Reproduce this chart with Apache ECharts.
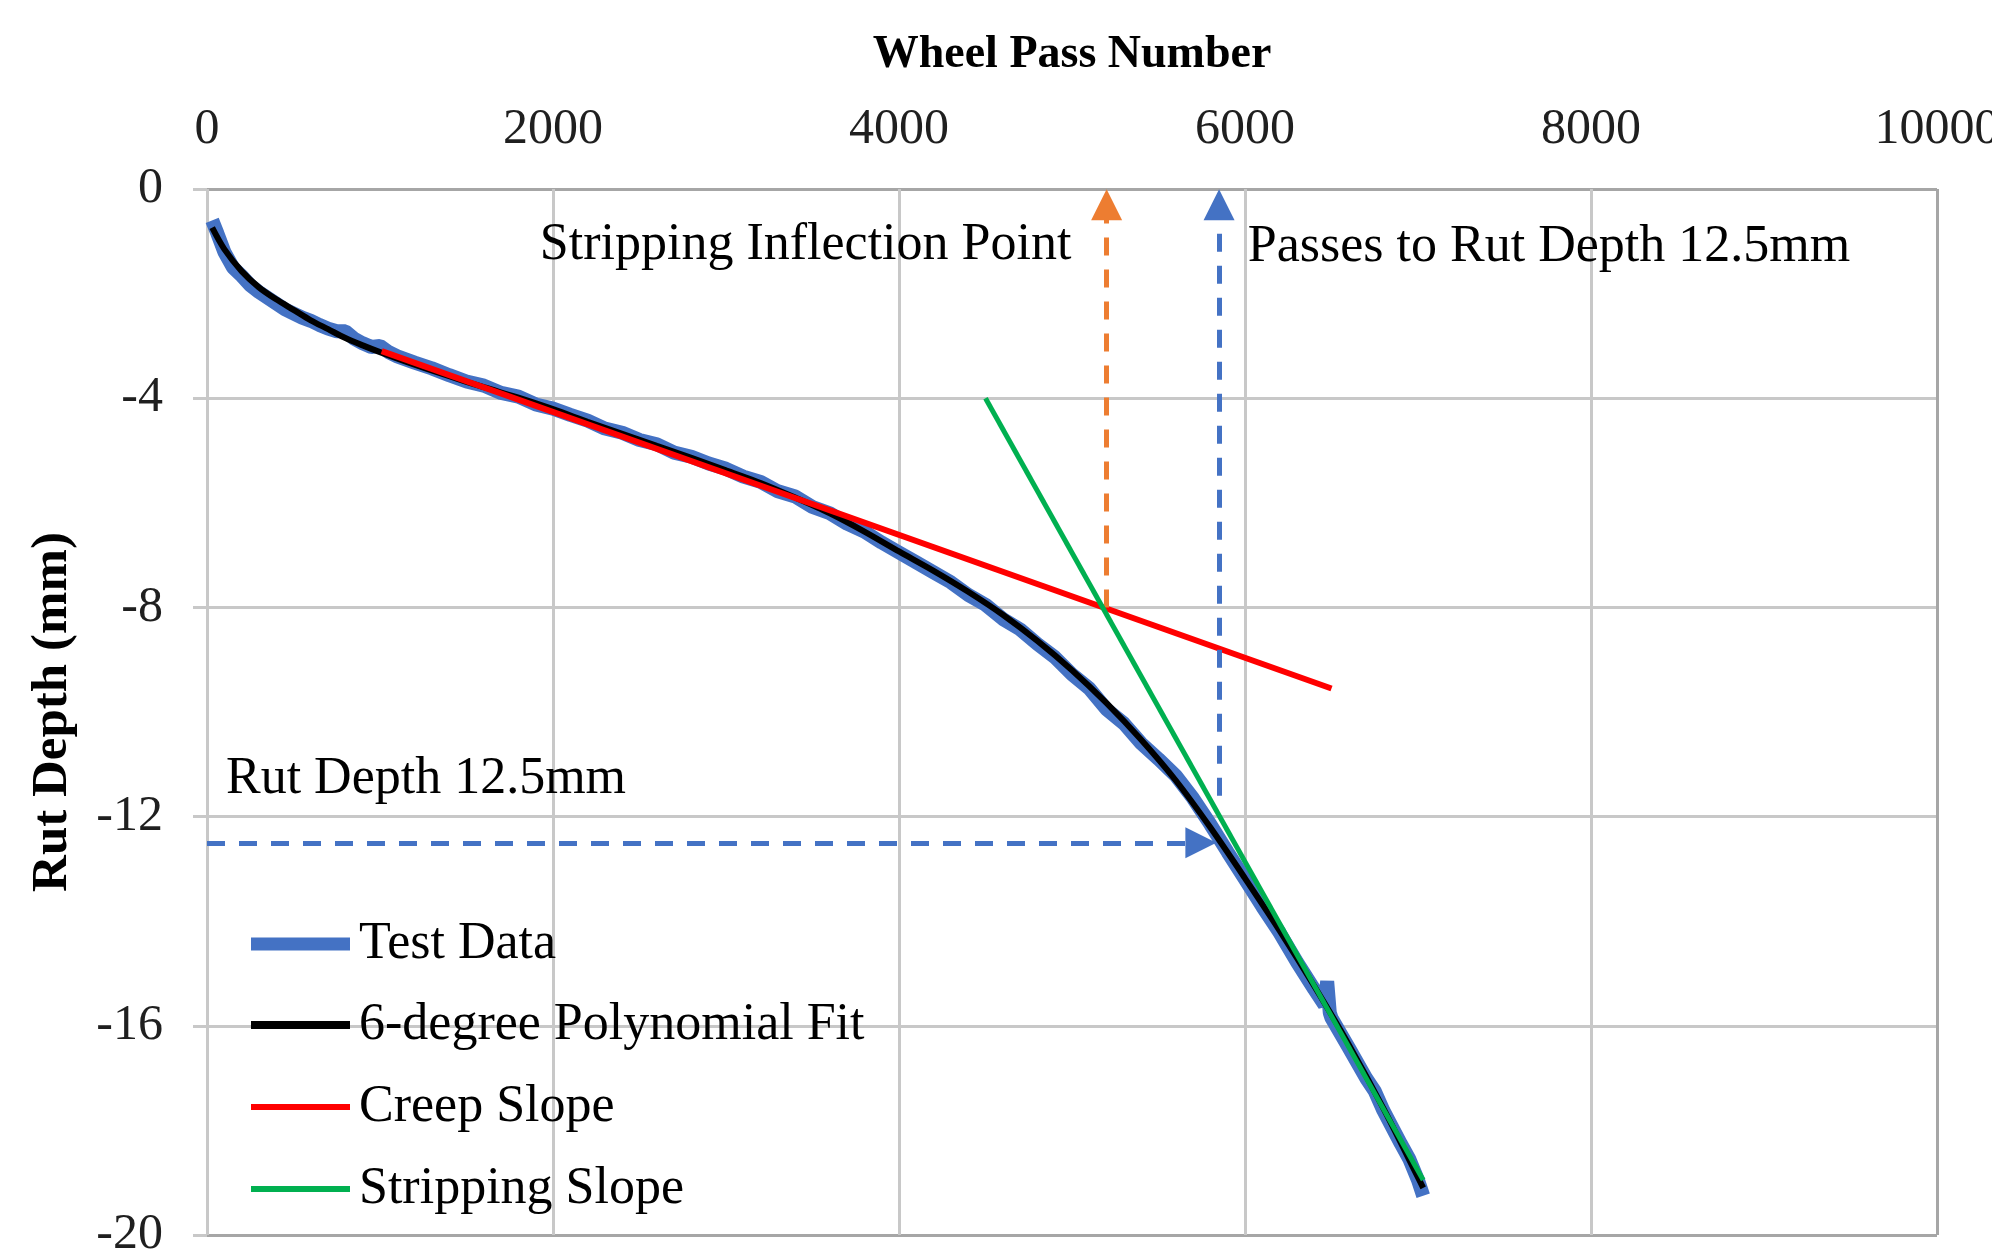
<!DOCTYPE html>
<html>
<head>
<meta charset="utf-8">
<script src="https://cdn.jsdelivr.net/npm/echarts@6/dist/echarts.min.js"></script>
<style>html,body{margin:0;padding:0;background:#fff;}#c{width:1992px;height:1260px;}</style>
</head>
<body>
<div id="c"></div>
<script>
// ---- data ----
const xTicks = [0, 2000, 4000, 6000, 8000, 10000];
const yTicks = [0, -4, -8, -12, -16, -20];

const testData = [[30,-0.6],[60,-0.85],[100,-1.2],[150,-1.5],[200,-1.66],[250,-1.84],[300,-1.97],[350,-2.08],[400,-2.19],[450,-2.3],[500,-2.38],[550,-2.46],[600,-2.52],[650,-2.6],[700,-2.67],[750,-2.72],[800,-2.72],[850,-2.86],[900,-2.95],[950,-3.02],[1000,-3.0],[1050,-3.12],[1100,-3.2],[1200,-3.32],[1300,-3.43],[1400,-3.56],[1500,-3.68],[1600,-3.76],[1700,-3.9],[1800,-3.97],[1900,-4.12],[2000,-4.2],[2100,-4.32],[2200,-4.43],[2300,-4.58],[2400,-4.66],[2500,-4.8],[2600,-4.88],[2700,-5.04],[2800,-5.12],[2900,-5.25],[3000,-5.35],[3100,-5.5],[3200,-5.6],[3300,-5.78],[3400,-5.88],[3500,-6.08],[3600,-6.2],[3700,-6.4],[3800,-6.55],[3900,-6.76],[4000,-6.95],[4100,-7.14],[4200,-7.33],[4300,-7.52],[4400,-7.76],[4500,-7.95],[4600,-8.22],[4700,-8.42],[4800,-8.7],[4900,-8.95],[5000,-9.28],[5100,-9.55],[5200,-9.95],[5300,-10.22],[5400,-10.6],[5500,-10.9],[5600,-11.22],[5700,-11.65],[5800,-12.15],[5900,-12.68],[6000,-13.2],[6100,-13.72],[6200,-14.22],[6300,-14.78],[6400,-15.3],[6460,-15.6],[6475,-15.15],[6490,-15.75],[6500,-15.85],[6600,-16.42],[6700,-17.0],[6750,-17.25],[6800,-17.62],[6900,-18.25],[6950,-18.55],[7000,-18.95],[7030,-19.25]];

const polyFit = [[30,-0.74],[100,-1.15],[200,-1.57],[300,-1.88],[400,-2.11],[500,-2.31],[600,-2.51],[700,-2.68],[800,-2.85],[900,-2.99],[1000,-3.12],[1200,-3.36],[1400,-3.58],[1600,-3.79],[1800,-3.99],[2000,-4.21],[2200,-4.45],[2400,-4.68],[2600,-4.91],[2800,-5.14],[3000,-5.38],[3200,-5.62],[3400,-5.9],[3600,-6.2],[3800,-6.55],[4000,-6.93],[4200,-7.3],[4400,-7.7],[4600,-8.14],[4800,-8.64],[5000,-9.2],[5200,-9.83],[5400,-10.53],[5600,-11.31],[5800,-12.21],[6000,-13.18],[6200,-14.18],[6400,-15.24],[6600,-16.36],[6800,-17.58],[7000,-18.9],[7030,-19.1]];

const creepSlope = [[1010,-3.1],[6500,-9.55]];
const strippingSlope = [[4500,-4.0],[7030,-18.95]];

const inflectionArrow = [[5200,-8.0],[5200,-0.3]];
const passesArrow = [[5850,-11.6],[5850,-0.3]];
const rutDepthArrow = [[0,-12.5],[5745,-12.5]];

const notes = [
  [3460, -1.07, 'Stripping Inflection Point'],
  [7757, -1.12, 'Passes to Rut Depth 12.5mm'],
  [1266, -11.29, 'Rut Depth 12.5mm']
];

const seriesNames = ['Test Data', '6-degree Polynomial Fit', 'Creep Slope', 'Stripping Slope'];
const seriesColors = ['#4472C4', '#000000', '#FF0000', '#00B050'];

// ---- chart ----
const FONT = '"Liberation Serif","Times New Roman",serif';
const LIGHT = '#c8c8c8', DARK = '#a6a6a6';
const chart = echarts.init(document.getElementById('c'), null, {renderer: 'canvas'});

function arrowLine(pts, color) {
  return [{coord: pts[0], lineStyle: {color: color}}, {coord: pts[1]}];
}

const legendTops = [913, 994, 1076, 1158];
const legendThick = [13, 8, 6, 6];

const option = {
  animation: false,
  backgroundColor: '#fff',
  grid: {left: 207, right: 55, top: 189, bottom: 25, show: false, containLabel: false, outerBoundsMode: 'none'},
  xAxis: {
    type: 'value', position: 'top', min: xTicks[0], max: xTicks[xTicks.length - 1], interval: 2000,
    name: 'Wheel Pass Number', nameLocation: 'middle', nameGap: 111,
    nameTextStyle: {fontFamily: FONT, fontWeight: 'bold', fontSize: 46, color: '#000'},
    axisLine: {show: false}, axisTick: {show: false},
    axisLabel: {fontFamily: FONT, fontSize: 50, color: '#1f1f1f', margin: 34, formatter: v => String(v)},
    splitLine: {show: true, lineStyle: {color: [LIGHT, LIGHT, LIGHT, LIGHT, LIGHT, DARK], width: 3}}
  },
  yAxis: {
    type: 'value', min: yTicks[yTicks.length - 1], max: yTicks[0], interval: 4,
    name: 'Rut Depth (mm)', nameLocation: 'middle', nameGap: 129,
    nameTextStyle: {fontFamily: FONT, fontWeight: 'bold', fontSize: 51, color: '#000'},
    axisLine: {show: false},
    axisTick: {show: true, length: 14, lineStyle: {color: LIGHT, width: 3}},
    axisLabel: {fontFamily: FONT, fontSize: 50, color: '#1f1f1f', margin: 44, formatter: v => String(v)},
    splitLine: {show: true, lineStyle: {color: [DARK, LIGHT, LIGHT, LIGHT, LIGHT, DARK], width: 3}}
  },
  legend: seriesNames.map((n, i) => ({
    data: [n], orient: 'vertical', left: 246, top: legendTops[i],
    itemWidth: 99, itemHeight: legendThick[i], icon: 'rect',
    itemStyle: {borderWidth: 0}, selectedMode: false,
    textStyle: {fontFamily: FONT, fontSize: 52, lineHeight: 52, color: '#000', padding: [0, 0, 0, 4]}
  })),
  series: [
    {name: seriesNames[0], type: 'line', data: testData, showSymbol: false, symbol: 'none',
     lineStyle: {color: seriesColors[0], width: 14}, itemStyle: {color: seriesColors[0]}, z: 2},
    {name: seriesNames[1], type: 'line', data: polyFit, showSymbol: false, symbol: 'none', smooth: 0.3,
     lineStyle: {color: seriesColors[1], width: 6}, itemStyle: {color: seriesColors[1]}, z: 3},
    {name: seriesNames[2], type: 'line', data: creepSlope, showSymbol: false, symbol: 'none',
     lineStyle: {color: seriesColors[2], width: 6}, itemStyle: {color: seriesColors[2]}, z: 4},
    {name: seriesNames[3], type: 'line', data: strippingSlope, showSymbol: false, symbol: 'none',
     lineStyle: {color: seriesColors[3], width: 5}, itemStyle: {color: seriesColors[3]}, z: 5},
    {name: 'arrows', type: 'line', data: [], z: 6,
     markLine: {
       silent: true, symbol: ['none', 'triangle'], symbolSize: 31, precision: 4,
       label: {show: false},
       lineStyle: {type: [18, 14], width: 5},
       emphasis: {disabled: true},
       data: [
         arrowLine(inflectionArrow, '#ED7D31'),
         arrowLine(passesArrow, '#4472C4'),
         arrowLine(rutDepthArrow, '#4472C4')
       ]
     }},
    {name: 'notes', type: 'scatter', data: notes, symbolSize: 1, z: 7, silent: true,
     itemStyle: {color: 'rgba(255,255,255,0)', opacity: 1},
     label: {show: true, position: 'inside', align: 'center', verticalAlign: 'middle', opacity: 1,
       textBorderWidth: 0, formatter: p => p.data[2], fontFamily: FONT, fontSize: 52, color: '#000'}}
  ]
};
chart.setOption(option);
</script>
</body>
</html>
